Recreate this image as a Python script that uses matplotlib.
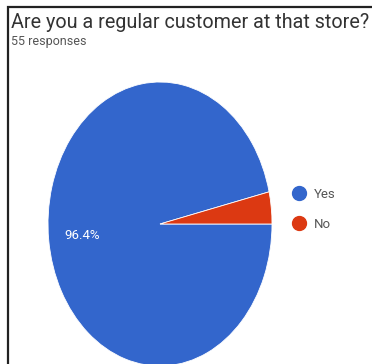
import matplotlib.pyplot as plt
from matplotlib.patches import Rectangle
from matplotlib.lines import Line2D

title = 'Are you a regular customer at that store?'
subtitle = '55 responses'
labels = ['Yes', 'No']
counts = [53, 2]
colors = ['#3366CC', '#DC3912']

W, H = 372, 364
fig = plt.figure(figsize=(W / 100, H / 100), dpi=100)
plt.rcParams['font.family'] = ['Roboto', 'DejaVu Sans']

# card border (only left and top edges visible)
fig.add_artist(Rectangle((8 / W, -0.1), 1.2, (H - 7) / H + 0.1, transform=fig.transFigure,
                         fill=False, edgecolor='#222222', lw=1.6))

fig.text(11 / W, 1 - 22 / H, title, fontsize=14.2, color='#333333', va='center', ha='left')
fig.text(11 / W, 1 - 42 / H, subtitle, fontsize=9, color='#555555', va='center', ha='left')

# pie is stretched vertically in the reference
ax = fig.add_axes([48 / W, -2 / H, 224 / W, 284 / H])
wedges, texts, autotexts = ax.pie(counts, colors=colors, startangle=0, counterclock=False,
                                  autopct=lambda p: f'{p:.1f}%' if p > 10 else '',
                                  pctdistance=0.7,
                                  wedgeprops=dict(edgecolor='white', linewidth=0.6),
                                  textprops=dict(color='white', fontsize=9.5))
ax.set_aspect('auto')
ax.set_xlim(-1, 1)
ax.set_ylim(-1, 1)

handles = [Line2D([], [], marker='o', linestyle='', markersize=10, color=c) for c in colors]
fig.legend(handles, labels, loc='upper left', bbox_to_anchor=(286 / W, 1 - 181 / H),
           frameon=False, fontsize=9.5, labelcolor='#555555', handletextpad=0.6,
           labelspacing=1.3, handlelength=1.0, borderpad=0)

fig.savefig('out.png', dpi=100)
